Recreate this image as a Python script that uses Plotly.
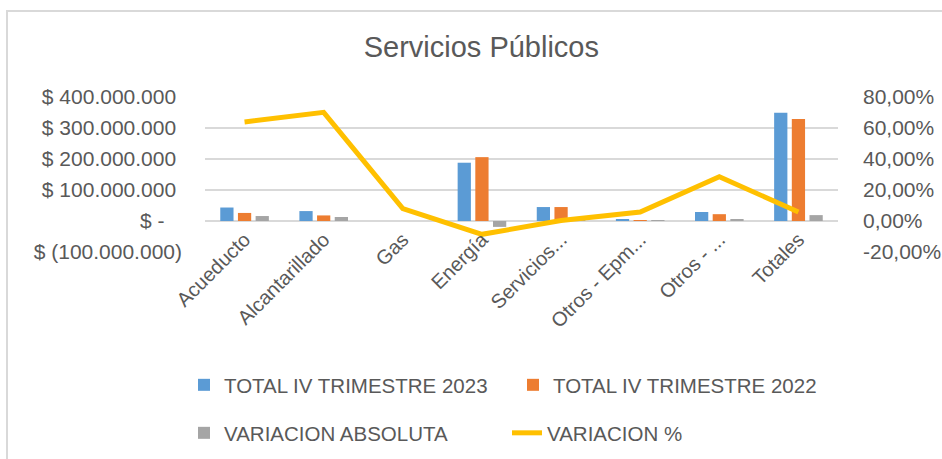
import plotly.graph_objects as go

# ---------------- data ----------------
categories = ["Acueducto", "Alcantarillado", "Gas", "Energía", "Servicios...",
              "Otros - Epm...", "Otros - ...", "Totales"]
total_2023 = [43.5e6, 32e6, 0, 188e6, 45e6, 5e6, 29e6, 349e6]
total_2022 = [26e6, 18e6, 0, 206e6, 45e6, 3e6, 22e6, 329e6]
variacion_abs = [16e6, 13e6, 0, -19e6, 0.4e6, 1e6, 6e6, 19e6]
variacion_pct = [0.639, 0.701, 0.080, -0.086, 0.003, 0.058, 0.286, 0.058]

left_tickvals = [-1e8, 0, 1e8, 2e8, 3e8, 4e8]
left_ticktext = ["$ (100.000.000)", "$ -\u00a0\u00a0\u00a0", "$ 100.000.000\u00a0",
                 "$ 200.000.000\u00a0", "$ 300.000.000\u00a0", "$ 400.000.000\u00a0"]
right_tickvals = [-0.2, 0, 0.2, 0.4, 0.6, 0.8]
right_ticktext = ["-20,00%", "0,00%", "20,00%", "40,00%", "60,00%", "80,00%"]

series_names = ["TOTAL IV TRIMESTRE 2023", "TOTAL IV TRIMESTRE 2022",
                "VARIACION ABSOLUTA", "VARIACION %"]
colors = ["#5B9BD5", "#ED7D31", "#A5A5A5", "#FFC000"]

# ---------------- layout constants ----------------
W, H = 942, 459
ML, MR, MT, MB = 205, 104, 97, 207
FONT = "Liberation Sans, Arial, sans-serif"
TXT = "#595959"
GRID = "#D9D9D9"

fig = go.Figure()
fig.add_trace(go.Bar(x=categories, y=total_2023, name=series_names[0], showlegend=True,
                     marker=dict(color=colors[0], line=dict(width=0)), legend="legend"))
fig.add_trace(go.Bar(x=categories, y=total_2022, name=series_names[1], showlegend=True,
                     marker=dict(color=colors[1], line=dict(width=0)), legend="legend2"))
fig.add_trace(go.Bar(x=categories, y=variacion_abs, name=series_names[2], showlegend=True,
                     marker=dict(color=colors[2], line=dict(width=0)), legend="legend3"))
fig.add_trace(go.Scatter(x=categories, y=variacion_pct, name=series_names[3], yaxis="y2",
                         mode="lines", line=dict(color=colors[3], width=5), showlegend=True,
                         legend="legend4"))

pw = W - ML - MR
ph = H - MT - MB
def px_to_paper_x(px):
    return (px - ML) / pw
def px_to_paper_y(py):
    return (H - MB - py) / ph

def leg(xpx, ypx):
    return dict(orientation="h", xref="container", yref="container",
                x=xpx / W, xanchor="left", y=1 - ypx / H, yanchor="middle",
                font=dict(size=20.5, color=TXT, family=FONT),
                bgcolor="rgba(0,0,0,0)")

fig.update_layout(
    width=W, height=H,
    showlegend=True,
    margin=dict(l=ML, r=MR, t=MT, b=MB, autoexpand=False),
    paper_bgcolor="white", plot_bgcolor="white",
    font=dict(family=FONT, size=21, color=TXT),
    separators=",.",
    barmode="group", bargap=0.33, bargroupgap=0.25,
    title=dict(text="Servicios Públicos", x=0.511, xref="container", xanchor="center",
               y=1 - 47 / H, yref="container", yanchor="middle",
               font=dict(family=FONT, size=29, color=TXT)),
    xaxis=dict(tickangle=-45, tickfont=dict(size=20, color=TXT), showgrid=False,
               showline=False, ticks="", zeroline=False,
               anchor="free", position=0.2, ticklabelstandoff=2),
    yaxis=dict(range=[-1e8, 4e8], tickvals=left_tickvals, ticktext=left_ticktext,
               showgrid=True, gridcolor=GRID, gridwidth=1.5, zeroline=False,
               ticks="", ticklabelstandoff=22, tickfont=dict(size=21, color=TXT)),
    yaxis2=dict(range=[-0.2, 0.8], tickvals=right_tickvals, ticktext=right_ticktext,
                overlaying="y", side="right", showgrid=False, zeroline=False,
                ticks="", ticklabelstandoff=24, tickfont=dict(size=21, color=TXT)),
    legend=leg(184, 385),
    legend2=leg(513, 385),
    legend3=leg(184, 433),
    legend4=leg(507, 433),
    shapes=[dict(type="rect", xref="paper", yref="paper",
                 x0=px_to_paper_x(7), x1=px_to_paper_x(W + 20),
                 y0=px_to_paper_y(H + 20), y1=px_to_paper_y(11),
                 line=dict(color=GRID, width=2), fillcolor="rgba(0,0,0,0)", layer="below")],
)

fig.write_html("out.html")
